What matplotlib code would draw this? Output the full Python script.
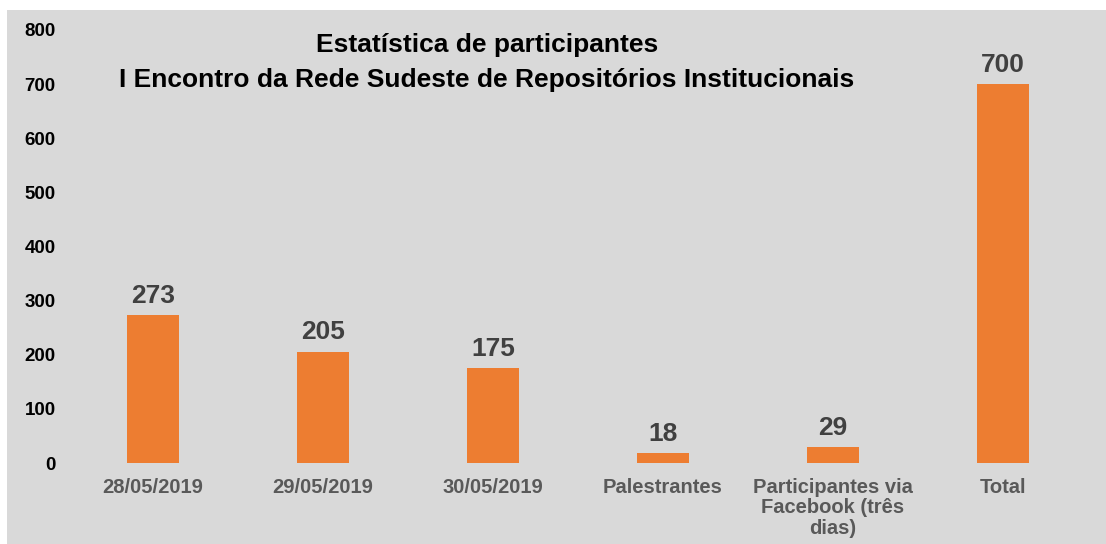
import matplotlib.pyplot as plt
from matplotlib.patches import Rectangle

categories = ['28/05/2019', '29/05/2019', '30/05/2019', 'Palestrantes',
              'Participantes via\nFacebook (três\ndias)', 'Total']
values = [273, 205, 175, 18, 29, 700]
yticks = [0, 100, 200, 300, 400, 500, 600, 700, 800]

plt.rcParams['font.family'] = ['Liberation Sans', 'DejaVu Sans']
plt.rcParams['font.weight'] = 'bold'

fig = plt.figure(figsize=(11.06, 5.44), dpi=100)
fig.patch.set_facecolor('white')
# gray chart area
fig.patches.append(Rectangle((7 / 1106, 0), 1 - 7 / 1106, 1 - 10 / 544,
                             transform=fig.transFigure, facecolor='#d9d9d9',
                             edgecolor='none', zorder=-5))

ax = fig.add_axes([68 / 1106, 81 / 544, 1020 / 1106, 433 / 544])
ax.set_facecolor('none')

x = range(len(categories))
bars = ax.bar(x, values, width=0.31, color='#ed7d31')
for xi, v in zip(x, values):
    ax.text(xi, v + 14, str(v), ha='center', va='bottom', fontsize=19,
            fontweight='bold', color='#404040')

ax.set_xlim(-0.5, 5.5)
ax.set_ylim(0, 800)
ax.set_yticks(yticks)
ax.set_yticklabels([str(t) for t in yticks], fontsize=13.5, fontweight='bold', color='black')
ax.set_xticks(list(x))
ax.set_xticklabels(categories, fontsize=14.5, fontweight='bold', color='#595959',
                   linespacing=1.08)
ax.tick_params(axis='both', length=0)
ax.tick_params(axis='x', pad=11)
ax.tick_params(axis='y', pad=9)
for s in ax.spines.values():
    s.set_visible(False)

fig.text(487 / 1106, 1 - 45 / 544, 'Estatística de participantes', ha='center',
         va='center', fontsize=19, fontweight='bold', color='black')
fig.text(487 / 1106, 1 - 80 / 544, 'I Encontro da Rede Sudeste de Repositórios Institucionais',
         ha='center', va='center', fontsize=19, fontweight='bold', color='black')

fig.savefig('out.png', dpi=100)
